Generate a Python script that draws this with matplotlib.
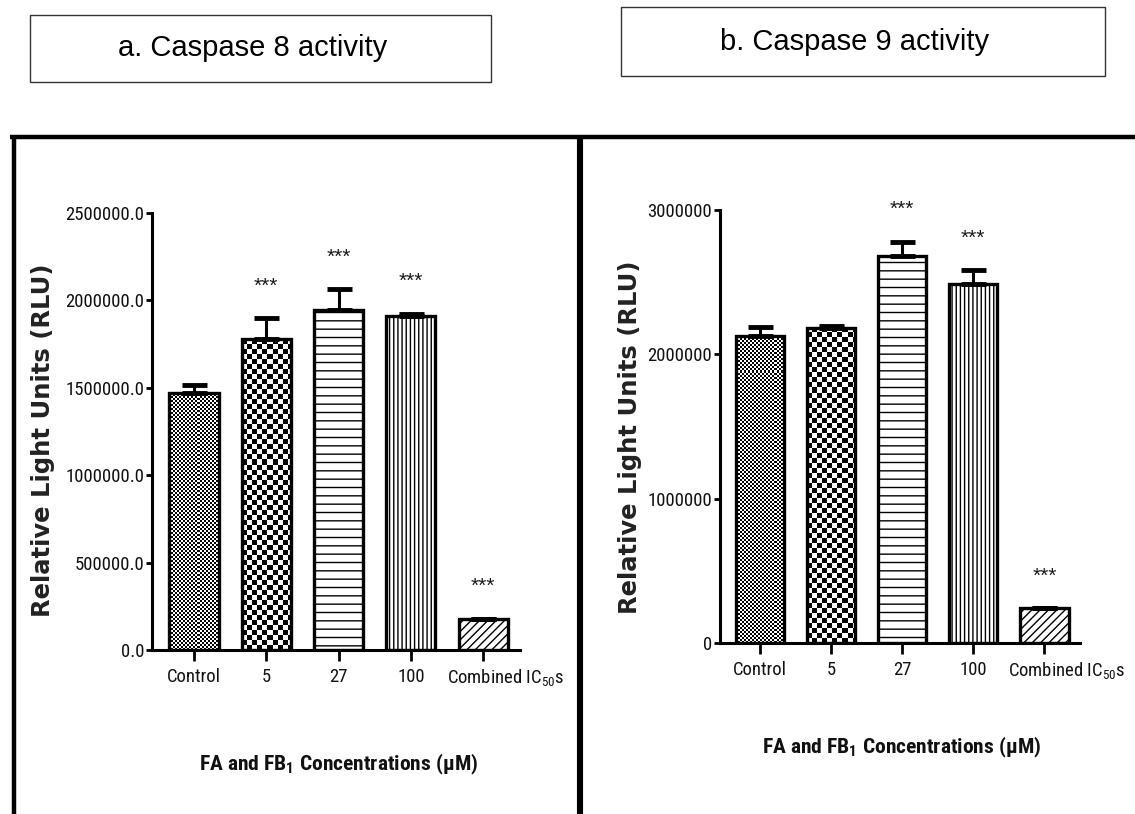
import numpy as np
import matplotlib
matplotlib.use("Agg")
import matplotlib.pyplot as plt
from matplotlib import font_manager as fm
from matplotlib.colors import ListedColormap
from matplotlib.patches import Rectangle
from matplotlib.lines import Line2D
from matplotlib.transforms import ScaledTranslation

# ---- data -------------------------------------------------------------
categories = ["Control", "5", "27", "100", r"Combined IC$_{\mathrm{50}}$s"]

casp8_mean = [1470000, 1780000, 1945000, 1910000, 180000]
casp8_err = [45000, 120000, 120000, 15000, 0]
casp8_sig = ["", "***", "***", "***", "***"]
casp8_ticks = [0, 500000, 1000000, 1500000, 2000000, 2500000]

casp9_mean = [2130000, 2185000, 2680000, 2485000, 242000]
casp9_err = [58000, 10000, 100000, 97000, 0]
casp9_sig = ["", "", "***", "***", "***"]
casp9_ticks = [0, 1000000, 2000000, 3000000]

panel_titles = ["a. Caspase 8 activity", "b. Caspase 9 activity"]
x_title = r"FA and FB$_{\mathbf{1}}$ Concentrations (µM)"
y_title = "Relative Light Units (RLU)"

# fill style per bar: ("checker", cell size in px) or a hatch string
fills = [("checker", 2), ("checker", 5), "--", "||||", "////"]

# ---- fonts: prefer a narrow sans for the axis text ---------------------
entries = fm.fontManager.ttflist


def has_font(name, stretch=None):
    return any(f.name == name and (stretch is None or f.stretch == stretch)
               for f in entries)


if has_font("Liberation Sans Narrow"):
    NARROW, STRETCH = "Liberation Sans Narrow", "normal"
elif has_font("Roboto Condensed"):
    NARROW, STRETCH = "Roboto Condensed", "normal"
elif has_font("DejaVu Sans", "condensed"):
    NARROW, STRETCH = "DejaVu Sans", "condensed"
else:
    NARROW, STRETCH = "Liberation Sans", "normal"

plt.rcParams["font.family"] = [NARROW, "DejaVu Sans"]
plt.rcParams["font.stretch"] = STRETCH
plt.rcParams["mathtext.fontset"] = "custom"
suffix = "" if STRETCH == "normal" else ":" + STRETCH
plt.rcParams["mathtext.rm"] = NARROW + suffix
plt.rcParams["mathtext.bf"] = NARROW + ":bold" + suffix
plt.rcParams["hatch.linewidth"] = 1.0

W, H = 1135, 814
fig = plt.figure(figsize=(W / 100, H / 100), dpi=100)
fig.patch.set_facecolor("white")
renderer = fig.canvas.get_renderer()


def fit_size(text, target_px, **kw):
    """Font size at which `text` is `target_px` pixels wide."""
    t = fig.text(0, 0, text, fontsize=10, **kw)
    w = t.get_window_extent(renderer).width
    t.remove()
    return 10 * target_px / w


size_ytick8 = fit_size("2500000.0", 78)
size_ytick9 = fit_size("3000000", 64)
size_xtick = fit_size(categories[-1], 118)
size_xlab = fit_size(x_title, 280, fontweight="bold")


def fx(px):
    return px / W


def fy(py):
    return 1 - py / H


def checker_fill(ax, bar, cell):
    """Cover a bar with a black/white checkerboard clipped to the bar."""
    x0, y0 = bar.get_x(), bar.get_y()
    w, h = bar.get_width(), bar.get_height()
    (p0x, p0y), (p1x, p1y) = ax.transData.transform([(x0, y0), (x0 + w, y0 + h)])
    sx = w / (p1x - p0x)
    sy = h / (p1y - p0y)
    nx = int(np.ceil((p1x - p0x) / cell))
    ny = int(np.ceil((p1y - p0y) / cell))
    grid = np.add.outer(np.arange(ny), np.arange(nx)) % 2
    im = ax.imshow(grid, cmap=ListedColormap(["white", "black"]),
                   extent=(x0, x0 + nx * cell * sx, y0, y0 + ny * cell * sy),
                   origin="lower", interpolation="nearest", aspect="auto",
                   zorder=2.5)
    im.set_clip_path(bar)


def draw_panel(rect, means, errs, sig, ticks, fmt, ytick_size,
               ylab_xy, xlab_xy, xlim):
    ax = fig.add_axes(rect)
    x = np.arange(len(categories))
    ax.set_xlim(*xlim)
    ax.set_ylim(0, ticks[-1])
    width = 0.68
    for xi, m, style in zip(x, means, fills):
        if isinstance(style, tuple):
            face = ax.bar(xi, m, width=width, color="white", edgecolor="black",
                          linewidth=0, zorder=2)[0]
            checker_fill(ax, face, style[1])
        else:
            ax.bar(xi, m, width=width, color="white", edgecolor="black",
                   linewidth=0, hatch=style, zorder=2)
        ax.bar(xi, m, width=width, fill=False, edgecolor="black",
               linewidth=2.4, zorder=4)
    ax.errorbar(x, means, yerr=[np.zeros(len(errs)), errs], fmt="none",
                ecolor="black", elinewidth=2.2, capsize=9, capthick=3.5,
                zorder=3)
    for xi, m, e, s in zip(x, means, errs, sig):
        if s:
            ax.annotate(s, (xi, m + e), xytext=(0, 23), textcoords="offset points",
                        ha="center", va="center", fontsize=15,
                        family=["Liberation Sans", "DejaVu Sans"],
                        fontstretch="normal", color="#1a1a1a")
    ax.set_xlim(*xlim)
    ax.set_ylim(0, ticks[-1])

    for side in ("top", "right"):
        ax.spines[side].set_visible(False)
    for side in ("left", "bottom"):
        ax.spines[side].set_linewidth(2.2)
    ax.set_xticks(x)
    ax.set_xticklabels(categories, fontsize=size_xtick, color="#111111")
    ax.set_yticks(ticks)
    ax.set_yticklabels([fmt.format(t) for t in ticks], fontsize=ytick_size,
                       color="#111111")
    ax.tick_params(axis="x", direction="out", length=8, width=2, pad=5)
    ax.tick_params(axis="y", direction="out", length=4, width=2, pad=1.5)
    # the long last label sits a little to the right of its tick
    last = ax.xaxis.get_major_ticks()[-1].label1
    last.set_transform(last.get_transform()
                       + ScaledTranslation(0.22, 0, fig.dpi_scale_trans))

    ax.set_ylabel(y_title, fontsize=17.5, fontweight="bold",
                  family=["DejaVu Sans"], fontstretch="normal", color="#222222")
    ax.yaxis.set_label_coords(*ylab_xy)
    ax.set_xlabel(x_title, fontsize=size_xlab, fontweight="bold", color="#111111")
    ax.xaxis.set_label_coords(*xlab_xy)
    return ax


# left panel: caspase 8
draw_panel([fx(152), fy(650), fx(368), 437 / H],
           casp8_mean, casp8_err, casp8_sig, casp8_ticks, "{:.1f}", size_ytick8,
           (-0.264, 0.48), (0.508, -0.233), (-0.58, 4.51))

# right panel: caspase 9
draw_panel([fx(720), fy(643), fx(360), 433 / H],
           casp9_mean, casp9_err, casp9_sig, casp9_ticks, "{:d}", size_ytick9,
           (-0.217, 0.476), (0.505, -0.212), (-0.56, 4.50))

# heavy frame around the two panels
frame = dict(transform=fig.transFigure, color="black", solid_capstyle="butt")
fig.add_artist(Line2D([fx(10), fx(W)], [fy(136.5), fy(136.5)], linewidth=3.2, **frame))
fig.add_artist(Line2D([fx(14), fx(14)], [fy(135), fy(H)], linewidth=3.2, **frame))
fig.add_artist(Line2D([fx(580), fx(580)], [fy(135), fy(H)], linewidth=4.4, **frame))

# panel title boxes
boxes = [(30, 15, 491, 82), (621, 7, 1105, 76)]
for (x0, y0, x1, y1), title in zip(boxes, panel_titles):
    fig.add_artist(Rectangle((fx(x0), fy(y1)), fx(x1 - x0), (y1 - y0) / H,
                             transform=fig.transFigure, fill=False,
                             edgecolor="#333333", linewidth=1.0))
    fig.text(fx((x0 + x1) / 2 - 8), fy((y0 + y1) / 2), title, ha="center",
             va="center", fontsize=21, family=["Liberation Sans", "DejaVu Sans"],
             fontstretch="normal")

fig.savefig("out.png", dpi=100, facecolor="white")
